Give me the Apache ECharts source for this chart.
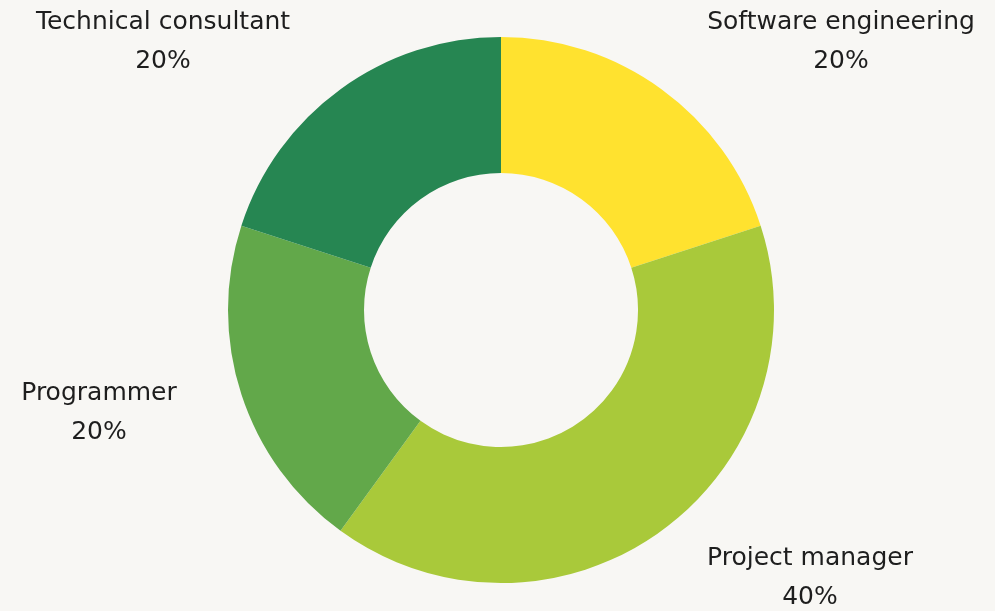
<!DOCTYPE html>
<html>
<head>
<meta charset="utf-8">
<script src="https://cdn.jsdelivr.net/npm/echarts@6/dist/echarts.min.js"></script>
<style>
html,body{margin:0;padding:0;background:#f8f7f4;}
#chart{width:995px;height:611px;}
</style>
</head>
<body>
<div id="chart"></div>
<script type="text/javascript">
var roles = ['Software engineering', 'Project manager', 'Programmer', 'Technical consultant'];
var shares = [20, 40, 20, 20];
var colors = ['#ffe22f', '#a9c93a', '#62a84a', '#268652'];
// where each label block sits (centre of the two text lines)
var labelSpots = [[841, 42], [810, 578], [99, 413], [163, 42]];

var data = [];
for (var i = 0; i < roles.length; i++) {
    data.push({ name: roles[i], value: shares[i], itemStyle: { color: colors[i] } });
}

var chart = echarts.init(document.getElementById('chart'));
chart.setOption({
    backgroundColor: '#f8f7f4',
    animation: false,
    series: [{
        type: 'pie',
        center: [501, 310],
        radius: [137, 273],
        startAngle: 90,
        clockwise: true,
        data: data,
        itemStyle: { borderWidth: 0 },
        label: {
            show: true,
            position: 'outside',
            formatter: '{b}\n{d}%',
            fontFamily: 'DejaVu Sans',
            fontSize: 25,
            lineHeight: 39,
            color: '#1e1e1e',
            align: 'center'
        },
        labelLine: { show: false },
        labelLayout: function (params) {
            var p = labelSpots[params.dataIndex];
            return { x: p[0], y: p[1], align: 'center', verticalAlign: 'middle' };
        }
    }]
});
</script>
</body>
</html>
